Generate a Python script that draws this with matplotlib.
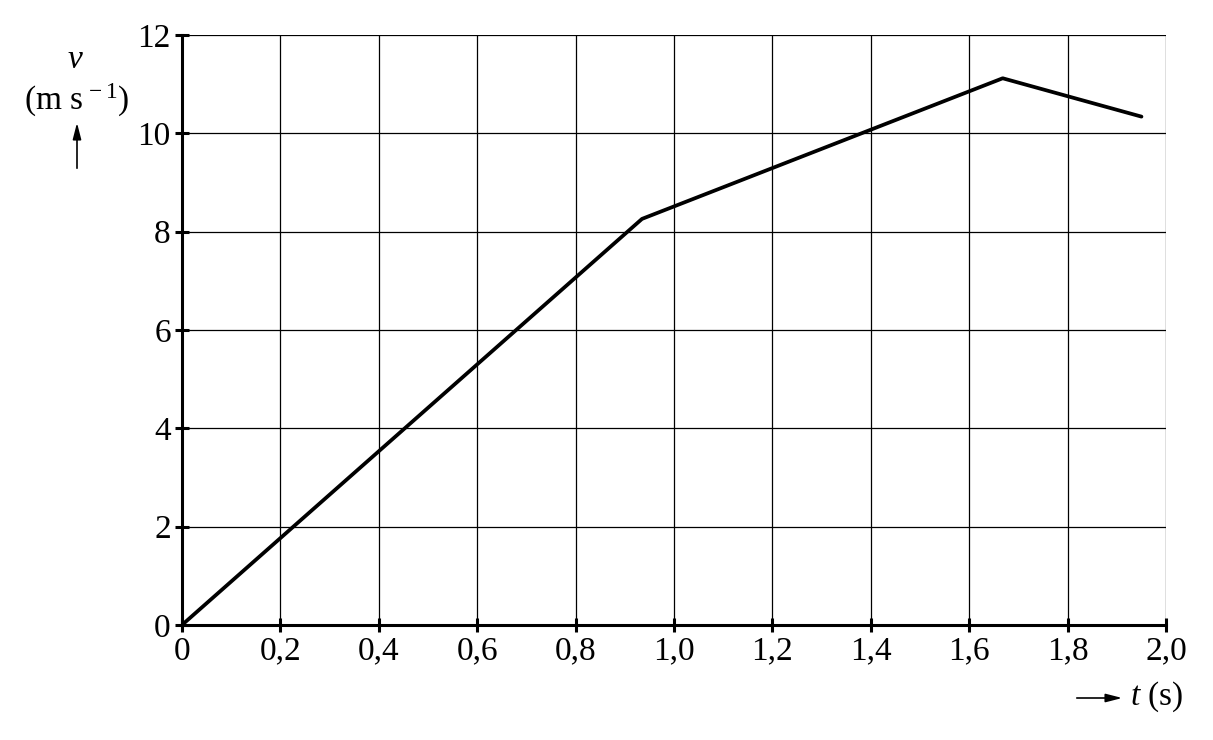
import matplotlib
matplotlib.use("Agg")
import matplotlib.pyplot as plt

# data
t = [0.0, 0.935, 1.668, 1.95]
v = [0.0, 8.26, 11.12, 10.34]
xticks = [0, 0.2, 0.4, 0.6, 0.8, 1.0, 1.2, 1.4, 1.6, 1.8, 2.0]
xlabels = ["0", "0,2", "0,4", "0,6", "0,8", "1,0", "1,2", "1,4", "1,6", "1,8", "2,0"]
yticks = [0, 2, 4, 6, 8, 10, 12]

plt.rcParams["font.family"] = ["Liberation Serif", "DejaVu Serif"]
plt.rcParams["mathtext.fontset"] = "custom"
plt.rcParams["mathtext.rm"] = "Liberation Serif"
plt.rcParams["mathtext.it"] = "Liberation Serif:italic"

fig = plt.figure(figsize=(12.13, 7.4), dpi=100)
ax = fig.add_axes([0.150, 0.1554, 0.8113, 0.7973])

ax.plot(t, v, color="black", lw=2.7, solid_capstyle="round", zorder=3)

ax.set_xlim(0, 2.0)
ax.set_ylim(0, 12)
ax.set_xticks(xticks)
ax.set_xticklabels(xlabels)
ax.set_yticks(yticks)
ax.grid(True, color="black", lw=0.9)
ax.set_axisbelow(False)

for s in ["top", "right"]:
    ax.spines[s].set_visible(False)
for s in ["left", "bottom"]:
    ax.spines[s].set_linewidth(2.2)
ax.tick_params(direction="inout", length=10, width=2.2, labelsize=24, pad=3, colors="black")

# y axis label with arrow
fig.text(75 / 1213, 1 - 60 / 740, "v", fontsize=24, style="italic", ha="center", va="center")
fig.text(77 / 1213, 1 - 100 / 740, r"(m s$^{\,-1}$)", fontsize=24, ha="center", va="center")
fig.add_artist(matplotlib.patches.FancyArrowPatch((77 / 1213, 1 - 171 / 740), (77 / 1213, 1 - 120 / 740),
               transform=fig.transFigure, arrowstyle="-|>,head_length=0.7,head_width=0.18",
               color="black", lw=1.2, mutation_scale=14))

# x axis label with arrow
fig.add_artist(matplotlib.patches.FancyArrowPatch((1074 / 1213, 1 - 698 / 740), (1125 / 1213, 1 - 698 / 740),
               transform=fig.transFigure, arrowstyle="-|>,head_length=0.7,head_width=0.18",
               color="black", lw=1.2, mutation_scale=14))
fig.text(1130 / 1213, 1 - 697 / 740, r"$t$ (s)", fontsize=24, ha="left", va="center")

fig.savefig("out.png", dpi=100)
